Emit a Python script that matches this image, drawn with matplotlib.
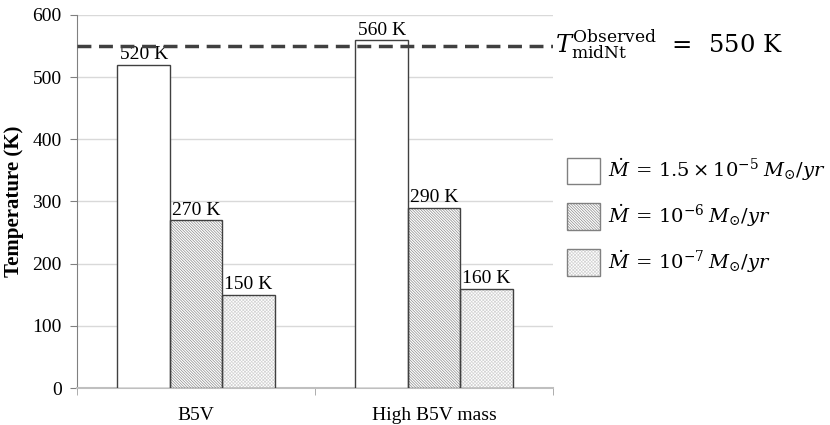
import numpy as np
import matplotlib.pyplot as plt

# data
groups = ["B5V", "High B5V mass"]
temp_high = [520, 560]   # Mdot = 1.5e-5
temp_mid = [270, 290]    # Mdot = 1e-6
temp_low = [150, 160]    # Mdot = 1e-7
t_observed = 550

series = [temp_high, temp_mid, temp_low]
labels = [r"$\dot{M}\,=\,1.5\times10^{-5}\;M_{\odot}/yr$",
          r"$\dot{M}\,=\,10^{-6}\;M_{\odot}/yr$",
          r"$\dot{M}\,=\,10^{-7}\;M_{\odot}/yr$"]
hatches = [None, "\\" * 12, "x" * 10]
hatch_cols = ["white", "#8a8a8a", "#d4d4d4"]

plt.rcParams["font.family"] = ["Liberation Serif", "DejaVu Serif"]
plt.rcParams["mathtext.fontset"] = "dejavuserif"
plt.rcParams["hatch.linewidth"] = 0.5

fig = plt.figure(figsize=(8.3, 4.25), dpi=100)
ax = fig.add_axes([0.0928, 0.087, 0.5735, 0.878])

x = np.arange(len(groups))
w = 0.22
handles = []
for i, vals in enumerate(series):
    pos = x + (i - 1) * w
    # hatch layer (hatch takes the edge colour), then the outline on top
    ax.bar(pos, vals, w, color="white", edgecolor=hatch_cols[i],
           linewidth=0, hatch=hatches[i], zorder=3)
    ax.bar(pos, vals, w, color="none", edgecolor="#404040",
           linewidth=1.0, zorder=3.5)
    for p, v in zip(pos, vals):
        ax.text(p, v + 2, f"{v} K", ha="center", va="bottom", fontsize=14,
                zorder=4)
    # legend proxy: hatched patch with outline
    h = plt.Rectangle((0, 0), 1, 1, facecolor="white", edgecolor=hatch_cols[i],
                      hatch=hatches[i], linewidth=0)
    o = plt.Rectangle((0, 0), 1, 1, facecolor="none", edgecolor="#808080",
                      linewidth=1.0)
    handles.append((h, o))

ax.axhline(t_observed, color="#404040", lw=2.5, ls=(0, (4, 2.2)), zorder=5)
ax.text(1.005, t_observed,
        r"$T_{\mathrm{midNt}}^{\mathrm{Observed}}\ \,=\ \,550\ \mathrm{K}$",
        transform=ax.get_yaxis_transform(), ha="left", va="center",
        fontsize=17.5, clip_on=False)

ax.set_xlim(-0.5, 1.5)
ax.set_ylim(0, 600)
ax.set_yticks(range(0, 601, 100))
ax.set_xticks(x)
ax.set_xticklabels(groups, fontsize=14)
ax.tick_params(axis="x", length=0, pad=14)
ax.tick_params(axis="y", labelsize=14, length=5, color="#808080", pad=6)
# category separator ticks on the bottom axis
ax.set_xticks([-0.5, 0.5, 1.5], minor=True)
ax.tick_params(axis="x", which="minor", length=5, color="#a0a0a0",
               direction="out")

ax.grid(axis="y", color="#d9d9d9", lw=1, zorder=0)
for s in ["top", "right"]:
    ax.spines[s].set_visible(False)
ax.spines["left"].set_color("#808080")
ax.spines["bottom"].set_color("#bfbfbf")
ax.spines["bottom"].set_linewidth(1.5)

ax.set_ylabel("Temperature (K)", fontsize=15, fontweight="bold", labelpad=6)

fig.legend(handles=handles, labels=labels, loc="upper left",
           bbox_to_anchor=(0.662, 0.673), frameon=False, fontsize=14,
           handlelength=1.7, handleheight=1.7, handletextpad=0.4,
           labelspacing=0.95)

fig.savefig("out.png", dpi=100)
